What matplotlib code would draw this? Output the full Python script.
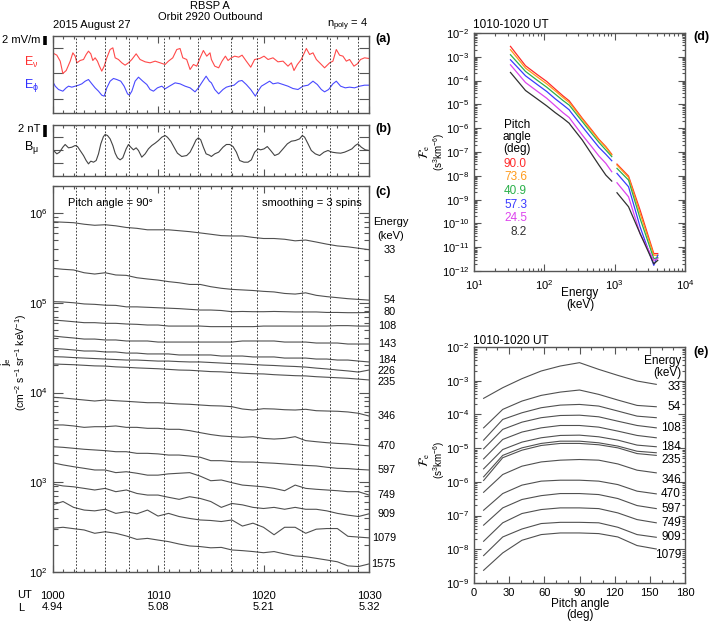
import numpy as np
import matplotlib.pyplot as plt
import matplotlib.transforms as mtransforms
from matplotlib.ticker import LogLocator, NullFormatter, MultipleLocator

plt.rcParams['font.family'] = ['Liberation Sans', 'DejaVu Sans']
plt.rcParams['mathtext.fontset'] = 'custom'
plt.rcParams['mathtext.rm'] = 'Liberation Sans'
plt.rcParams['mathtext.it'] = 'Liberation Sans:italic'
plt.rcParams['mathtext.bf'] = 'Liberation Sans:bold'
plt.rcParams['axes.unicode_minus'] = False
plt.rcParams['font.size'] = 8

# ---- panel (a): electric field (mV/m, offset traces), time in minutes after 1000 UT
ev_t = [0.0, 0.41, 0.73, 0.98, 1.30, 1.68, 1.93, 2.15, 2.31, 2.62,
        2.94, 3.19, 3.41, 3.63, 3.82, 4.04, 4.26, 4.45, 4.67, 4.90,
        5.15, 5.46, 5.72, 5.94, 6.25, 6.57, 6.88, 7.20, 7.52, 7.93,
        8.30, 8.78, 9.25, 9.73, 10.20, 10.67, 10.99, 11.40, 11.78, 12.09,
        12.35, 12.72, 13.04, 13.36, 13.67, 13.99, 14.30, 14.62, 14.93, 15.06,
        15.38, 15.75, 16.07, 16.39, 16.64, 16.95, 17.27, 17.65, 17.97, 18.37,
        18.79, 19.16, 19.64, 20.05, 20.43, 20.90, 21.37, 21.85, 22.32, 22.64,
        22.89, 23.21, 23.58, 24.06, 24.37, 24.69, 25.01, 25.48, 25.79, 26.27,
        26.58, 26.90, 27.21, 27.53, 27.85, 28.16, 28.57, 28.89, 29.20, 29.58,
        30.0]
ev_v = [13.26, 12.74, 11.41, 8.67, 9.33, 11.41, 13.26, 12.52, 11.04, 11.56,
        11.78, 12.89, 13.63, 13.04, 11.56, 12.15, 11.41, 10.30, 9.19, 10.30,
        12.15, 14.0, 14.37, 12.15, 11.78, 11.04, 10.52, 11.04, 11.78, 13.04,
        11.78, 11.26, 11.04, 11.41, 11.04, 10.67, 11.41, 12.15, 14.0, 14.22,
        12.15, 11.78, 9.56, 10.67, 10.30, 12.15, 13.78, 12.52, 13.26, 11.78,
        10.30, 9.93, 11.41, 12.52, 11.56, 12.15, 12.52, 12.30, 12.74, 11.41,
        10.07, 11.78, 12.0, 12.52, 11.78, 12.15, 11.26, 11.41, 10.30, 11.04,
        9.33, 10.67, 11.78, 14.22, 12.89, 13.26, 11.78, 10.67, 9.93, 11.04,
        11.41, 14.0, 12.74, 12.52, 11.41, 11.78, 10.30, 10.81, 11.78, 12.15,
        12.0]

ephi_t = [0.0, 0.26, 0.57, 0.98, 1.30, 1.52, 1.83, 2.15, 2.47, 2.78,
          3.10, 3.41, 3.73, 4.04, 4.36, 4.67, 4.90, 5.15, 5.46, 5.78,
          6.09, 6.47, 6.79, 7.11, 7.29, 7.52, 7.83, 8.15, 8.56, 8.94,
          9.25, 9.57, 9.95, 10.36, 10.67, 11.08, 11.62, 12.09, 12.57, 13.04,
          13.51, 13.83, 14.24, 14.56, 14.87, 15.06, 15.38, 15.75, 16.16, 16.48,
          16.80, 17.21, 17.65, 17.96, 18.37, 18.79, 19.23, 19.48, 19.80, 20.17,
          20.58, 20.90, 21.37, 21.85, 22.32, 22.79, 23.27, 23.74, 24.22, 24.69,
          25.10, 25.48, 25.79, 26.17, 26.58, 26.90, 27.31, 27.75, 28.16, 28.63,
          29.11, 29.58, 30.0]
ephi_v = [6.96, 5.85, 5.11, 4.74, 5.48, 5.85, 5.63, 5.85, 6.07, 6.37,
          6.96, 7.33, 6.37, 5.48, 4.74, 3.85, 3.63, 5.48, 6.96, 7.56,
          7.33, 6.96, 5.85, 4.15, 3.85, 4.74, 6.96, 7.85, 6.96, 6.22,
          5.11, 4.74, 5.48, 5.85, 5.26, 5.85, 6.59, 6.37, 5.85, 5.48,
          4.59, 5.48, 6.96, 8.07, 6.96, 6.59, 5.11, 4.15, 5.11, 5.63,
          5.85, 6.07, 6.96, 7.11, 6.22, 5.11, 3.63, 4.74, 5.85, 6.37,
          6.96, 6.37, 6.59, 6.22, 5.85, 5.33, 5.11, 5.85, 6.07, 6.96,
          6.22, 5.11, 4.59, 5.11, 6.37, 6.96, 5.85, 5.48, 5.63, 5.48,
          5.85, 6.07, 6.07]

# ---- panel (b): B_mu (nT)
bmu_t = [0.0, 0.16, 0.41, 0.67, 0.98, 1.20, 1.52, 1.83, 2.15, 2.37,
         2.62, 2.94, 3.19, 3.41, 3.63, 3.89, 4.14, 4.36, 4.58, 4.83,
         4.99, 5.21, 5.46, 5.72, 5.94, 6.16, 6.41, 6.66, 6.98, 7.20,
         7.42, 7.67, 7.93, 8.15, 8.46, 8.78, 9.09, 9.41, 9.73, 10.04,
         10.36, 10.67, 10.89, 11.21, 11.52, 11.84, 12.25, 12.72, 13.04, 13.36,
         13.61, 13.83, 14.05, 14.30, 14.56, 14.87, 15.06, 15.38, 15.75, 16.16,
         16.48, 16.80, 17.11, 17.43, 17.74, 18.15, 18.53, 18.85, 19.16, 19.48,
         19.73, 20.05, 20.36, 20.68, 21.06, 21.44, 21.85, 22.26, 22.64, 23.02,
         23.42, 23.68, 23.90, 24.22, 24.53, 24.91, 25.32, 25.73, 26.11, 26.49,
         26.90, 27.31, 27.69, 28.06, 28.38, 28.70, 28.95, 29.27, 29.65, 30.0]
bmu_v = [4.44, 4.06, 3.61, 3.89, 4.72, 5.17, 4.61, 4.72, 5.0, 4.83,
         4.17, 3.33, 2.5, 1.94, 2.39, 2.22, 2.5, 3.61, 5.28, 6.5,
         6.83, 6.67, 6.11, 5.0, 3.72, 2.94, 2.61, 2.94, 4.44, 5.17,
         4.72, 4.28, 4.61, 4.17, 3.06, 3.61, 4.44, 5.0, 5.39, 5.83,
         6.39, 6.67, 6.39, 5.72, 4.72, 3.72, 3.17, 3.33, 3.89, 5.0,
         5.94, 6.28, 5.94, 4.72, 3.61, 3.39, 3.17, 3.61, 3.89, 4.72,
         5.17, 5.17, 4.83, 3.89, 2.5, 2.22, 2.22, 2.61, 3.89, 4.44,
         4.28, 4.44, 4.83, 4.17, 3.33, 3.61, 4.44, 5.28, 5.72, 5.83,
         6.11, 6.67, 6.39, 5.28, 4.17, 3.61, 3.33, 3.89, 4.17, 3.89,
         3.78, 3.72, 3.89, 4.17, 4.44, 5.0, 5.28, 4.72, 4.28, 4.17]

# dotted event lines (minutes after 1000 UT)
event_t = [2.24, 5.02, 7.23, 10.58, 13.8, 16.9, 19.41, 23.65, 26.3, 28.98]

# ---- panel (c): 90 deg electron flux per minute
minutes = list(range(31))
energy_c = ['33', '54', '80', '108', '143', '184', '226', '235', '346',
            '470', '597', '749', '909', '1079', '1575']
j33 = [8.0e5, 7.9e5, 7.8e5, 7.5e5, 7.3e5, 7.4e5, 7.2e5, 6.9e5, 6.75e5, 6.5e5, 6.5e5,
       6.5e5, 6.35e5, 6.2e5, 6.0e5, 5.8e5, 5.6e5, 5.55e5, 5.55e5, 5.35e5, 5.2e5,
       5.2e5, 5.1e5, 4.9e5, 5.0e5, 4.75e5, 4.5e5, 4.3e5, 4.2e5, 4.05e5, 3.9e5]
j54 = [2.42e5, 2.36e5, 2.32e5, 2.16e5, 2.09e5, 2.16e5, 2.04e5, 2.02e5, 1.90e5, 1.84e5, 1.79e5,
       1.72e5, 1.67e5, 1.60e5, 1.60e5, 1.51e5, 1.45e5, 1.41e5, 1.39e5, 1.37e5, 1.34e5,
       1.32e5, 1.27e5, 1.25e5, 1.29e5, 1.21e5, 1.17e5, 1.14e5, 1.11e5, 1.09e5, 1.07e5]
j80 = [1.03e5, 1.02e5, 1.00e5, 9.7e4, 9.6e4, 9.4e4, 9.35e4, 9.0e4, 9.0e4, 8.9e4, 8.8e4,
       8.7e4, 8.6e4, 8.45e4, 8.3e4, 8.3e4, 8.2e4, 7.95e4, 8.0e4, 7.95e4, 7.95e4,
       8.0e4, 7.95e4, 7.9e4, 7.9e4, 7.9e4, 7.8e4, 7.8e4, 7.75e4, 7.75e4, 7.8e4]
j108 = [6.43e4, 6.3e4, 6.15e4, 6.0e4, 6.0e4, 5.9e4, 5.9e4, 5.8e4, 5.75e4, 5.65e4, 5.65e4,
        5.5e4, 5.5e4, 5.5e4, 5.5e4, 5.42e4, 5.42e4, 5.42e4, 5.42e4, 5.42e4, 5.5e4,
        5.5e4, 5.5e4, 5.5e4, 5.5e4, 5.5e4, 5.5e4, 5.56e4, 5.56e4, 5.5e4, 5.5e4]
j143 = [4.27e4, 4.15e4, 4.05e4, 3.94e4, 3.94e4, 3.85e4, 3.85e4, 3.75e4, 3.75e4, 3.75e4, 3.65e4,
        3.65e4, 3.65e4, 3.65e4, 3.65e4, 3.65e4, 3.65e4, 3.65e4, 3.75e4, 3.75e4, 3.75e4,
        3.75e4, 3.65e4, 3.65e4, 3.65e4, 3.56e4, 3.56e4, 3.56e4, 3.47e4, 3.47e4, 3.47e4]
j184 = [3.10e4, 3.05e4, 2.98e4, 2.90e4, 2.90e4, 2.83e4, 2.83e4, 2.75e4, 2.75e4, 2.69e4, 2.69e4,
        2.69e4, 2.62e4, 2.62e4, 2.62e4, 2.62e4, 2.55e4, 2.55e4, 2.55e4, 2.49e4, 2.49e4,
        2.49e4, 2.42e4, 2.42e4, 2.42e4, 2.36e4, 2.36e4, 2.30e4, 2.30e4, 2.24e4, 2.19e4]
j226 = [2.51e4, 2.49e4, 2.45e4, 2.42e4, 2.39e4, 2.36e4, 2.33e4, 2.30e4, 2.30e4, 2.27e4, 2.24e4,
        2.24e4, 2.21e4, 2.19e4, 2.19e4, 2.16e4, 2.13e4, 2.10e4, 2.08e4, 2.05e4, 2.02e4,
        2.0e4, 1.97e4, 1.95e4, 1.92e4, 1.87e4, 1.83e4, 1.78e4, 1.74e4, 1.69e4, 1.78e4]
j235 = [2.08e4, 2.06e4, 2.04e4, 2.01e4, 1.98e4, 1.97e4, 1.93e4, 1.91e4, 1.88e4, 1.86e4, 1.84e4,
        1.81e4, 1.78e4, 1.77e4, 1.74e4, 1.71e4, 1.70e4, 1.67e4, 1.64e4, 1.62e4, 1.61e4,
        1.58e4, 1.56e4, 1.54e4, 1.53e4, 1.50e4, 1.48e4, 1.46e4, 1.44e4, 1.41e4, 1.38e4]
j346 = [8.85e3, 8.7e3, 8.47e3, 8.25e3, 8.04e3, 8.25e3, 8.1e3, 7.98e3, 7.84e3, 7.7e3, 7.7e3,
        7.58e3, 7.45e3, 7.39e3, 7.26e3, 7.13e3, 7.08e3, 6.95e3, 6.55e3, 6.38e3, 6.6e3,
        6.55e3, 6.43e3, 6.38e3, 6.5e3, 6.27e3, 6.22e3, 6.18e3, 6.07e3, 5.87e3, 5.47e3]
j470 = [4.35e3, 4.35e3, 4.24e3, 4.09e3, 4.16e3, 4.16e3, 4.24e3, 4.09e3, 4.09e3, 3.99e3, 3.99e3,
        3.89e3, 3.89e3, 3.76e3, 3.57e3, 3.40e3, 3.28e3, 3.22e3, 3.17e3, 3.22e3, 3.08e3,
        3.03e3, 3.08e3, 3.22e3, 2.91e3, 2.83e3, 2.76e3, 2.71e3, 2.67e3, 2.60e3, 2.54e3]
j597 = [2.49e3, 2.45e3, 2.39e3, 2.33e3, 2.29e3, 2.25e3, 2.19e3, 2.19e3, 2.10e3, 2.10e3, 2.07e3,
        2.01e3, 2.01e3, 1.96e3, 1.90e3, 1.74e3, 1.74e3, 1.70e3, 1.68e3, 1.68e3, 1.65e3,
        1.63e3, 1.60e3, 1.57e3, 1.54e3, 1.52e3, 1.47e3, 1.43e3, 1.42e3, 1.39e3, 1.37e3]
j749 = [1.65e3, 1.56e3, 1.49e3, 1.43e3, 1.37e3, 1.37e3, 1.28e3, 1.31e3, 1.26e3, 1.20e3, 1.20e3,
        1.24e3, 1.26e3, 1.28e3, 1.17e3, 1.04e3, 1.06e3, 9.9e2, 9.3e2, 9.1e2, 8.9e2,
        8.55e2, 8.05e2, 9.3e2, 8.55e2, 8.35e2, 8.2e2, 8.05e2, 7.85e2, 7.85e2, 7.2e2]
j909 = [9.55e2, 9.1e2, 8.9e2, 8.55e2, 8.2e2, 8.55e2, 7.85e2, 8.2e2, 7.5e2, 7.2e2, 7.2e2,
        6.8e2, 6.45e2, 6.9e2, 6.6e2, 6.1e2, 5.25e2, 5.8e2, 5.6e2, 5.25e2, 5.1e2,
        5.25e2, 5.0e2, 5.25e2, 5.0e2, 5.0e2, 4.8e2, 4.5e2, 4.3e2, 4.15e2, 4.45e2]
j1079 = [5.6e2, 6.1e2, 5.25e2, 4.9e2, 4.8e2, 5.0e2, 4.5e2, 4.7e2, 4.45e2, 4.9e2, 4.2e2,
         4.5e2, 4.15e2, 3.95e2, 3.8e2, 3.75e2, 3.65e2, 3.8e2, 3.25e2, 3.5e2, 3.15e2,
         2.6e2, 3.15e2, 3.15e2, 2.7e2, 3.0e2, 3.05e2, 3.05e2, 2.5e2, 2.45e2, 2.4e2]
j1575 = [3.07e2, 3.15e2, 3.04e2, 2.94e2, 2.7e2, 2.81e2, 2.7e2, 2.52e2, 2.31e2, 2.37e2, 2.27e2,
         2.18e2, 2.05e2, 1.95e2, 1.92e2, 1.86e2, 1.88e2, 1.76e2, 1.73e2, 1.69e2, 1.64e2,
         1.69e2, 1.59e2, 1.51e2, 1.48e2, 1.42e2, 1.36e2, 1.30e2, 1.17e2, 1.15e2, 1.23e2]
flux_c = [j33, j54, j80, j108, j143, j184, j226, j235, j346,
          j470, j597, j749, j909, j1079, j1575]
# label nudges (points) for the crowded energy labels of panel (c)
label_nudge_c = {'184': 1.5, '226': -0.5, '235': -1.5}

# ---- panel (d): phase space density vs energy (1010-1020 UT)
energy_lo = [33, 54, 80, 108, 143, 184, 226, 235, 346, 470, 597, 749, 909]
energy_hi = [1079, 1575, 2300, 3600, 4100]
pa_names = ['90.0', '73.6', '40.9', '57.3', '24.5', '8.2']
pa_colors = ['#ff2a2a', '#ff9a1a', '#2ab04a', '#3a3aff', '#dd44ee', '#303030']
psd_lo = [
    [2.74e-3, 4.2e-4, 1.75e-4, 9.2e-5, 4.4e-5, 2.29e-5, 1.41e-5, 1.2e-5, 2.62e-6, 8.5e-7, 3.42e-7, 1.68e-7, 8.0e-8],
    [1.99e-3, 3.35e-4, 1.40e-4, 7.3e-5, 3.7e-5, 1.95e-5, 1.2e-5, 1.05e-5, 2.38e-6, 7.7e-7, 3.2e-7, 1.57e-7, 7.5e-8],
    [1.22e-3, 2.43e-4, 1.01e-4, 5.3e-5, 2.69e-5, 1.46e-5, 9.3e-6, 8.1e-6, 1.9e-6, 6.1e-7, 2.55e-7, 1.21e-7, 6.4e-8],
    [7.5e-4, 1.59e-4, 6.7e-5, 3.5e-5, 1.71e-5, 9.6e-6, 5.9e-6, 5.0e-6, 1.17e-6, 3.77e-7, 1.57e-7, 8.0e-8, 4.3e-8],
    [4.6e-4, 8.3e-5, 3.5e-5, 1.82e-5, 8.7e-6, 4.5e-6, 2.8e-6, 2.38e-6, 5.2e-7, 1.68e-7, 6.8e-8, 3.33e-8, 1.48e-8],
    [2.2e-4, 3.84e-5, 1.66e-5, 8.7e-6, 4.5e-6, 2.62e-6, 1.61e-6, 1.37e-6, 3.2e-7, 8.2e-8, 2.83e-8, 1.07e-8, 6.0e-9],
]
psd_hi = [
    [3.1e-8, 9.7e-9, 3.6e-10, 5.4e-12, 5.4e-12],
    [2.83e-8, 8.6e-9, 2.6e-10, 4.6e-12, 4.6e-12],
    [2.05e-8, 6.6e-9, 1.6e-10, 3.3e-12, 3.65e-12],
    [1.26e-8, 3.46e-9, 7.1e-11, 1.73e-12, 4.6e-12],
    [5.1e-9, 1.31e-9, 3.7e-11, 2.8e-12, 3.3e-12],
    [1.94e-9, 5.0e-10, 3.7e-11, 2.0e-12, 2.8e-12],
]

# ---- panel (e): phase space density vs pitch angle
pitch_e = [8.2, 24.5, 40.9, 57.3, 73.6, 90.0, 106.4, 122.7, 139.1, 155.5]
energy_e = ['33', '54', '80', '108', '143', '184', '226', '235', '346', '470', '597', '749', '909', '1079']
labelled_e = ['33', '54', '108', '184', '235', '346', '470', '597', '749', '909', '1079']
psd_e = [
    [3.0e-4, 6.2e-4, 1.15e-3, 1.94e-3, 2.73e-3, 3.43e-3, 2.17e-3, 1.44e-3, 9.8e-4, 7.8e-4],
    [4.0e-5, 1.41e-4, 2.49e-4, 3.67e-4, 4.6e-4, 5.3e-4, 3.93e-4, 2.67e-4, 1.85e-4, 1.69e-4],
    [1.73e-5, 7.1e-5, 1.12e-4, 1.58e-4, 1.89e-4, 1.98e-4, 1.77e-4, 1.26e-4, 8.9e-5, 8.0e-5],
    [9.5e-6, 3.6e-5, 5.9e-5, 8.0e-5, 9.3e-5, 9.5e-5, 8.5e-5, 6.3e-5, 4.7e-5, 4.0e-5],
    [4.8e-6, 1.81e-5, 3.0e-5, 4.0e-5, 4.7e-5, 4.7e-5, 4.2e-5, 3.2e-5, 2.38e-5, 2.03e-5],
    [2.43e-6, 9.1e-6, 1.51e-5, 2.03e-5, 2.38e-5, 2.43e-5, 2.17e-5, 1.73e-5, 1.23e-5, 1.1e-5],
    [1.41e-6, 6.1e-6, 1.02e-5, 1.38e-5, 1.61e-5, 1.61e-5, 1.44e-5, 1.15e-5, 8.1e-6, 7.3e-6],
    [1.1e-6, 5.2e-6, 8.7e-6, 1.2e-5, 1.38e-5, 1.38e-5, 1.26e-5, 1.02e-5, 6.9e-6, 6.1e-6],
    [4.9e-7, 1.65e-6, 2.92e-6, 3.9e-6, 4.4e-6, 4.6e-6, 4.4e-6, 3.4e-6, 2.22e-6, 1.85e-6],
    [1.44e-7, 4.5e-7, 8.0e-7, 1.05e-6, 1.12e-6, 1.12e-6, 1.05e-6, 8.3e-7, 5.3e-7, 4.4e-7],
    [5.2e-8, 1.69e-7, 3.0e-7, 3.9e-7, 4.5e-7, 4.5e-7, 4.2e-7, 3.2e-7, 1.98e-7, 1.61e-7],
    [1.73e-8, 6.1e-8, 1.15e-7, 1.51e-7, 1.69e-7, 1.69e-7, 1.61e-7, 1.2e-7, 7.6e-8, 6.1e-8],
    [6.5e-9, 2.32e-8, 4.0e-8, 5.8e-8, 6.3e-8, 6.3e-8, 6.1e-8, 4.5e-8, 2.73e-8, 2.27e-8],
    [2.38e-9, 7.8e-9, 1.85e-8, 2.73e-8, 3.05e-8, 3.05e-8, 2.92e-8, 2.32e-8, 1.29e-8, 1.02e-8],
]
# label nudges (points) for the crowded energy labels of panel (e)
label_nudge_e = {'33': -2, '235': -3, '346': -5, '1079': -4}

W, H = 709, 623
fig = plt.figure(figsize=(W / 100, H / 100), dpi=100)
FRAME = '#555555'


def box(x0, y0, x1, y1):
    return [x0 / W, 1 - y1 / H, (x1 - x0) / W, (y1 - y0) / H]


def ftext(x, y, s, **kw):
    kw.setdefault('va', 'center')
    fig.text(x / W, 1 - y / H, s, **kw)


def frame(ax):
    for s in ax.spines.values():
        s.set_color(FRAME)
        s.set_linewidth(1.0)
    ax.tick_params(which='both', direction='in', top=True, right=True,
                   color=FRAME, labelsize=8, width=0.8)
    ax.tick_params(which='major', length=5)
    ax.tick_params(which='minor', length=2.5)


def time_axis(ax, labels=False):
    ax.set_xlim(0, 30)
    ax.set_xticks([0, 10, 20, 30])
    ax.xaxis.set_minor_locator(MultipleLocator(1))
    if not labels:
        ax.set_xticklabels([])
    for t in event_t:
        ax.axvline(t, color='#222222', lw=0.6, ls=(0, (2, 2)))


def scale_bar(ax, top, size):
    tr = mtransforms.blended_transform_factory(ax.transAxes, ax.transData)
    ax.plot([-0.024, -0.024], [top - size, top], transform=tr, color='k',
            lw=2.6, solid_capstyle='butt', clip_on=False)


def decades(lo, hi):
    return [10.0 ** k for k in range(lo, hi + 1)]


def log_axis(ax, axis, lo, hi):
    loc = ax.xaxis if axis == 'x' else ax.yaxis
    loc.set_ticks(decades(lo, hi))
    loc.set_minor_locator(LogLocator(base=10, subs=np.arange(2, 10), numticks=20))
    loc.set_minor_formatter(NullFormatter())


# panel (a)
ax_a = fig.add_axes(box(52.5, 36, 369, 112.5))
ax_a.plot(ev_t, ev_v, color='#ff4a4a', lw=0.8)
ax_a.plot(ephi_t, ephi_v, color='#4a4aff', lw=0.8)
ax_a.set_ylim(0, 17)
ax_a.set_yticks([2.89, 8.67, 14.44])
ax_a.set_yticklabels([])
time_axis(ax_a)
frame(ax_a)
ax_a.tick_params(axis='y', length=7)
scale_bar(ax_a, 17, 2)

# panel (b)
ax_b = fig.add_axes(box(52.5, 125, 369, 175.5))
ax_b.plot(bmu_t, bmu_v, color='#444444', lw=0.8)
ax_b.set_ylim(0, 8.42)
ax_b.set_yticks([2.05, 4.28, 6.5])
ax_b.set_yticklabels([])
time_axis(ax_b)
frame(ax_b)
ax_b.tick_params(axis='y', length=7)
scale_bar(ax_b, 8.42, 2)

# panel (c)
ax_c = fig.add_axes(box(52.5, 186, 369, 572))
for e, j in zip(energy_c, flux_c):
    ax_c.plot(minutes, j, color='#505050', lw=0.8)
ax_c.set_yscale('log')
ax_c.set_ylim(1e2, 2e6)
log_axis(ax_c, 'y', 2, 6)
time_axis(ax_c, labels=True)
ax_c.set_xticklabels(['1000\n4.94', '1010\n5.08', '1020\n5.21', '1030\n5.32'])
frame(ax_c)
ax_c.tick_params(axis='x', pad=14)
ax_c.tick_params(axis='y', which='major', length=7)
ax_c.tick_params(axis='y', which='minor', length=3.5)
for lbl in ax_c.get_xticklabels():
    lbl.set_linespacing(1.05)
tr_c = mtransforms.blended_transform_factory(ax_c.transAxes, ax_c.transData)
for e, j in zip(energy_c, flux_c):
    ax_c.annotate(e, (1.0853, j[-1]), xycoords=tr_c,
                  xytext=(0, label_nudge_c.get(e, 0)), textcoords='offset points',
                  ha='right', va='center', fontsize=7.8)
ax_c.text(0.05, 0.955, 'Pitch angle = 90\u00b0', transform=ax_c.transAxes, ha='left', va='center')
ax_c.text(0.978, 0.955, 'smoothing = 3 spins', transform=ax_c.transAxes, ha='right', va='center')

# labels round the time panels
ftext(210, 6, 'RBSP A', ha='center')
ftext(210, 17, 'Orbit 2920 Outbound', ha='center')
ftext(53, 25, '2015 August 27', ha='left')
ftext(368, 25, 'n$_{\\rm poly}$ = 4', ha='right')
ftext(40, 40, '2 mV/m', ha='right')
ftext(39, 62, 'E$_{\\mathrm{\\nu}}$', ha='right', color='#ff3030', fontsize=9)
ftext(39, 86, 'E$_{\\mathrm{\\phi}}$', ha='right', color='#3030ff', fontsize=9)
ftext(40, 129, '2 nT', ha='right')
ftext(39, 148, 'B$_{\\mathrm{\\mu}}$', ha='right', fontsize=9)
ftext(375, 39, '(a)', ha='left', fontweight='bold', fontsize=9)
ftext(375, 129, '(b)', ha='left', fontweight='bold', fontsize=9)
ftext(375, 192, '(c)', ha='left', fontweight='bold', fontsize=9)
ftext(391, 222, 'Energy', ha='center', fontsize=8)
ftext(391, 236, '(keV)', ha='center', fontsize=8)
ftext(6, 362, 'j$_{\\rm e}$', rotation=90, ha='center', fontsize=8)
ftext(21, 362, '(cm$^{-2}$ s$^{-1}$ sr$^{-1}$ keV$^{-1}$)', rotation=90, ha='center', fontsize=7.5)
ftext(17, 595, 'UT', ha='left', fontsize=8)
ftext(18, 608, 'L', ha='left', fontsize=8)


def psd_label(y):
    ftext(425, y, '$\\mathcal{F}_{\\rm e}$', rotation=90, ha='center',
          fontsize=9, math_fontfamily='stix')
    ftext(439, y, '(s$^3$km$^{-6}$)', rotation=90, ha='center', fontsize=7)


# panel (d)
ax_d = fig.add_axes(box(474, 33, 685, 271))
order = [0, 1, 3, 2, 4, 5]
for k in order:
    ax_d.plot(energy_lo, psd_lo[k], color=pa_colors[k], lw=0.9)
    ax_d.plot(energy_hi, psd_hi[k], color=pa_colors[k], lw=0.9)
ax_d.set_xscale('log')
ax_d.set_yscale('log')
ax_d.set_xlim(10, 1e4)
ax_d.set_ylim(1e-12, 1e-2)
log_axis(ax_d, 'x', 1, 4)
log_axis(ax_d, 'y', -12, -2)
frame(ax_d)
ax_d.tick_params(axis='x', pad=5)
ftext(473, 25, '1010-1020 UT', ha='left', fontsize=8.5)
ftext(693, 37, '(d)', ha='left', fontweight='bold', fontsize=9)
ftext(580, 293, 'Energy', ha='center', fontsize=8.5)
ftext(580, 305, '(keV)', ha='center', fontsize=8.5)
psd_label(152)
ftext(517, 125, 'Pitch', ha='center', fontsize=8.5)
ftext(517, 137, 'angle', ha='center', fontsize=8.5)
ftext(517, 149, '(deg)', ha='center', fontsize=8.5)
for i, (name, col) in enumerate(zip(pa_names, pa_colors)):
    ftext(527, 164 + i * 13.5, name, ha='right', color=col, fontsize=8.5)

# panel (e)
ax_e = fig.add_axes(box(474, 347, 685, 583))
for e, f in zip(energy_e, psd_e):
    ax_e.plot(pitch_e, f, color='#505050', lw=0.8)
ax_e.set_yscale('log')
ax_e.set_xlim(0, 180)
ax_e.set_ylim(1e-9, 1e-2)
ax_e.set_xticks([0, 30, 60, 90, 120, 150, 180])
ax_e.xaxis.set_minor_locator(MultipleLocator(10))
log_axis(ax_e, 'y', -9, -2)
frame(ax_e)
tr_e = mtransforms.blended_transform_factory(ax_e.transAxes, ax_e.transData)
for e, f in zip(energy_e, psd_e):
    if e in labelled_e:
        ax_e.annotate(e, (0.981, f[-1]), xycoords=tr_e,
                      xytext=(0, label_nudge_e.get(e, 0)), textcoords='offset points',
                      ha='right', va='center', fontsize=8.5)
ftext(473, 341, '1010-1020 UT', ha='left', fontsize=8.5)
ftext(693, 352, '(e)', ha='left', fontweight='bold', fontsize=9)
ftext(681, 361, 'Energy', ha='right', fontsize=8.5)
ftext(681, 373, '(keV)', ha='right', fontsize=8.5)
ftext(580, 604, 'Pitch angle', ha='center', fontsize=8.5)
ftext(580, 615, '(deg)', ha='center', fontsize=8.5)
psd_label(460)

fig.savefig('out.png', dpi=100)
